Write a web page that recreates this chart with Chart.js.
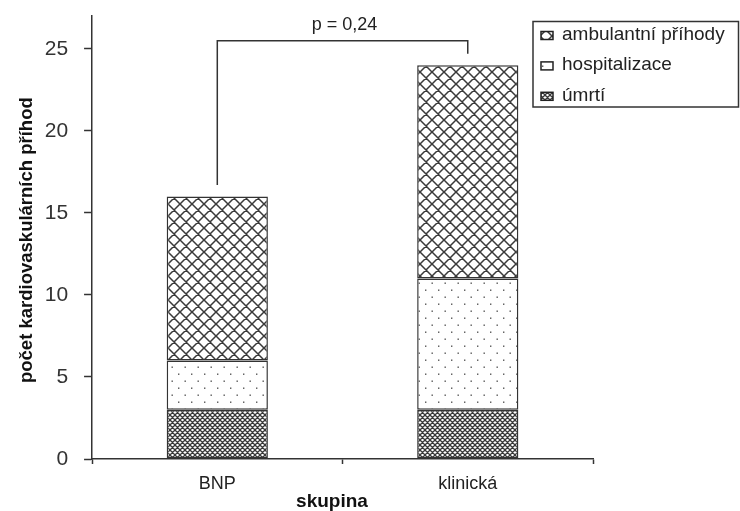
<!DOCTYPE html>
<html><head><meta charset="utf-8">
<script src="https://cdn.jsdelivr.net/npm/chart.js@4.4.1/dist/chart.umd.min.js"></script>
<style>html,body{margin:0;padding:0;background:#fff;} canvas{display:block}</style>
</head><body>
<canvas id="c" width="740" height="511"></canvas>
<script>
// ---- data ----
const categories = ['BNP', 'klinická'];
const umrti = [3, 3];
const hospitalizace = [3, 8];
const ambulantniPrihody = [10, 13];
const seriesLabels = ['úmrtí', 'hospitalizace', 'ambulantní příhody'];
const yTickValues = [0, 5, 10, 15, 20, 25];
const yAxisTitle = 'počet kardiovaskulárních příhod';
const xAxisTitle = 'skupina';
const pValueText = 'p = 0,24';

// ---- patterns ----
function makeTile(w, h, draw) {
  const c = document.createElement('canvas');
  c.width = w; c.height = h;
  const g = c.getContext('2d');
  g.fillStyle = '#fff'; g.fillRect(0, 0, w, h);
  draw(g, w, h);
  return g.createPattern(c, 'repeat');
}
function crossHatch(g, s, color, lw) {
  g.strokeStyle = color; g.lineWidth = lw;
  g.beginPath();
  for (let k = -1; k <= 1; k++) {
    g.moveTo(k * s, 0); g.lineTo(k * s + s, s);
    g.moveTo(k * s + s, 0); g.lineTo(k * s, s);
  }
  g.stroke();
}
const patAmb = makeTile(12, 12, (g) => crossHatch(g, 12, '#3a3a3a', 1.5));
const patHosp = makeTile(13, 14, (g) => {
  g.fillStyle = '#555';
  g.fillRect(2.5, 2.5, 1.4, 1.4);
  g.fillRect(9, 9.5, 1.4, 1.4);
});
const patUmrti = makeTile(5, 5, (g) => crossHatch(g, 5, '#3a3a3a', 1.3));

// ---- plugins ----
const bracketPlugin = {
  id: 'bracket',
  afterDatasetsDraw(chart, args, o) {
    const {ctx, scales: {x, y}} = chart;
    const xl = x.getPixelForValue(0), xr = x.getPixelForValue(1);
    const yt = y.getPixelForValue(o.top);
    ctx.save();
    ctx.strokeStyle = '#333'; ctx.lineWidth = 1.5;
    ctx.beginPath();
    ctx.moveTo(xl, y.getPixelForValue(o.leftEnd));
    ctx.lineTo(xl, yt); ctx.lineTo(xr, yt);
    ctx.lineTo(xr, y.getPixelForValue(o.rightEnd));
    ctx.stroke();
    ctx.fillStyle = '#222'; ctx.font = '18px "Liberation Sans", Arial, sans-serif';
    ctx.textAlign = 'center'; ctx.textBaseline = 'alphabetic';
    ctx.fillText(o.text, (xl + xr) / 2 + 2, yt - 10.5);
    ctx.restore();
  }
};
const legendPlugin = {
  id: 'boxLegend',
  afterDraw(chart, args, o) {
    const ctx = chart.ctx;
    ctx.save();
    ctx.strokeStyle = '#333'; ctx.lineWidth = 1.5;
    ctx.strokeRect(o.x, o.y, o.w, o.h);
    const ds = chart.data.datasets.slice().reverse();
    ds.forEach((d, i) => {
      const base = o.firstBaseline + i * o.rowGap;
      const sy = base - o.swatchLift;
      ctx.fillStyle = d.backgroundColor;
      ctx.fillRect(o.sx, sy, o.sw, o.sh);
      ctx.strokeStyle = '#222'; ctx.lineWidth = 1.5;
      ctx.strokeRect(o.sx, sy, o.sw, o.sh);
      ctx.fillStyle = '#222';
      ctx.font = '19px "Liberation Sans", Arial, sans-serif';
      ctx.textAlign = 'left'; ctx.textBaseline = 'alphabetic';
      ctx.fillText(d.label, o.tx, base);
    });
    ctx.restore();
  }
};

const ds = (label, data, bg) => ({
  label, data, backgroundColor: bg,
  borderColor: '#333', borderWidth: 1.5, borderSkipped: false,
  barPercentage: 0.404, categoryPercentage: 1.0
});

new Chart(document.getElementById('c'), {
  type: 'bar',
  data: {
    labels: categories,
    datasets: [
      ds(seriesLabels[0], umrti, patUmrti),
      ds(seriesLabels[1], hospitalizace, patHosp),
      ds(seriesLabels[2], ambulantniPrihody, patAmb)
    ]
  },
  options: {
    responsive: false,
    animation: false,
    devicePixelRatio: 1,
    layout: { padding: { left: 16, right: 147, top: 0, bottom: 0 } },
    plugins: {
      legend: { display: false },
      tooltip: { enabled: false },
      bracket: { top: 25.5, leftEnd: 16.7, rightEnd: 24.7, text: pValueText },
      boxLegend: { x: 533, y: 21.5, w: 205.5, h: 85.5, firstBaseline: 40, rowGap: 30.4,
                   swatchLift: 8.5, sx: 541, sw: 12, sh: 8, tx: 562 }
    },
    scales: {
      x: {
        stacked: true,
        grid: { drawOnChartArea: false, drawTicks: true, tickLength: 5, tickColor: '#333', tickWidth: 1.5, offset: true },
        border: { display: true, color: '#333', width: 1.5 },
        ticks: { color: '#222', font: { family: '"Liberation Sans", Arial, sans-serif', size: 18, lineHeight: 1.0 }, padding: 11 },
        title: { display: true, text: xAxisTitle + '    ', color: '#111',
                 font: { family: '"Liberation Sans", Arial, sans-serif', size: 19, weight: 'bold', lineHeight: 1.0 },
                 padding: { top: -12, bottom: 0 } }
      },
      y: {
        stacked: true,
        min: 0, max: 27,
        afterBuildTicks: (scale) => { scale.ticks = yTickValues.map(v => ({ value: v })); },
        grid: { drawOnChartArea: false, drawTicks: true, tickLength: 8, tickColor: '#333', tickWidth: 1.5 },
        border: { display: true, color: '#333', width: 1.5 },
        ticks: { color: '#333', font: { family: '"Liberation Sans", Arial, sans-serif', size: 21, lineHeight: 0.01 }, padding: 16 },
        title: { display: true, text: yAxisTitle + ' ', color: '#111',
                 font: { family: '"Liberation Sans", Arial, sans-serif', size: 18.5, weight: 'bold', lineHeight: 1.2 },
                 padding: { top: 0, bottom: -9.5 } }
      }
    }
  },
  plugins: [bracketPlugin, legendPlugin]
});
</script>
</body></html>
